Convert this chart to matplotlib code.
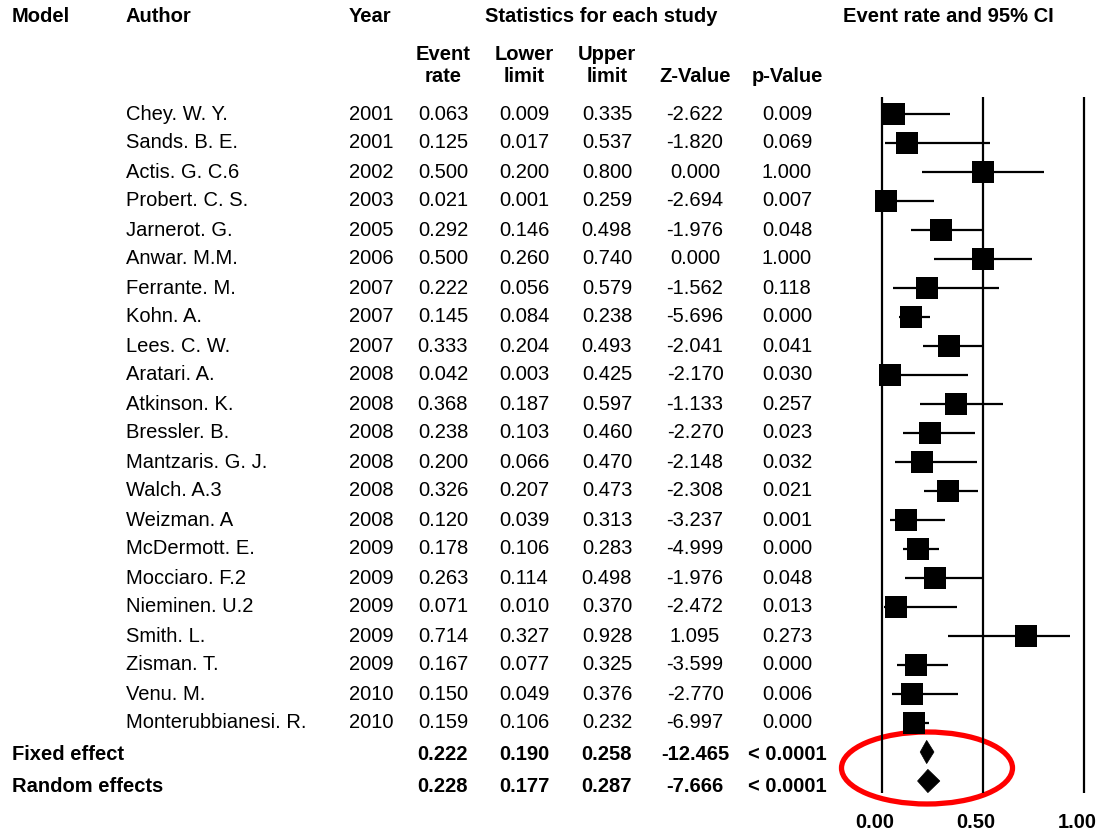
import matplotlib
matplotlib.use("Agg")
import matplotlib.pyplot as plt
from matplotlib.patches import Ellipse, Polygon
from matplotlib.transforms import offset_copy

plt.rcParams['font.family'] = ['Liberation Sans', 'DejaVu Sans']

# Studies
authors = ["Chey. W. Y.", "Sands. B. E.", "Actis. G. C.6", "Probert. C. S.", "Jarnerot. G.",
           "Anwar. M.M.", "Ferrante. M.", "Kohn. A.", "Lees. C. W.", "Aratari. A.",
           "Atkinson. K.", "Bressler. B.", "Mantzaris. G. J.", "Walch. A.3", "Weizman. A",
           "McDermott. E.", "Mocciaro. F.2", "Nieminen. U.2", "Smith. L.", "Zisman. T.",
           "Venu. M.", "Monterubbianesi. R."]
years = [2001, 2001, 2002, 2003, 2005, 2006, 2007, 2007, 2007, 2008, 2008,
         2008, 2008, 2008, 2008, 2009, 2009, 2009, 2009, 2009, 2010, 2010]
event_rate = [0.063, 0.125, 0.500, 0.021, 0.292, 0.500, 0.222, 0.145, 0.333, 0.042, 0.368,
              0.238, 0.200, 0.326, 0.120, 0.178, 0.263, 0.071, 0.714, 0.167, 0.150, 0.159]
lower = [0.009, 0.017, 0.200, 0.001, 0.146, 0.260, 0.056, 0.084, 0.204, 0.003, 0.187,
         0.103, 0.066, 0.207, 0.039, 0.106, 0.114, 0.010, 0.327, 0.077, 0.049, 0.106]
upper = [0.335, 0.537, 0.800, 0.259, 0.498, 0.740, 0.579, 0.238, 0.493, 0.425, 0.597,
         0.460, 0.470, 0.473, 0.313, 0.283, 0.498, 0.370, 0.928, 0.325, 0.376, 0.232]
z_value = [-2.622, -1.820, 0.000, -2.694, -1.976, 0.000, -1.562, -5.696, -2.041, -2.170, -1.133,
           -2.270, -2.148, -2.308, -3.237, -4.999, -1.976, -2.472, 1.095, -3.599, -2.770, -6.997]
p_value = [0.009, 0.069, 1.000, 0.007, 0.048, 1.000, 0.118, 0.000, 0.041, 0.030, 0.257,
           0.023, 0.032, 0.021, 0.001, 0.000, 0.048, 0.013, 0.273, 0.000, 0.006, 0.000]

# Pooled estimates
models = ["Fixed effect", "Random effects"]
pooled_rate = [0.222, 0.228]
pooled_lower = [0.190, 0.177]
pooled_upper = [0.258, 0.287]
pooled_z = [-12.465, -7.666]
pooled_p = ["< 0.0001", "< 0.0001"]

x_ticks = [0.0, 0.5, 1.0]
x_ticklabels = ["0.00", "0.50", "1.00"]

W, H = 1099, 832
fig = plt.figure(figsize=(W / 100, H / 100), dpi=100)

# table part, pixel coordinates
ax_t = fig.add_axes([0, 0, 1, 1])
ax_t.set_xlim(0, W)
ax_t.set_ylim(H, 0)
ax_t.axis('off')

fs = 14.5
y0, dy = 114, 29.0
col_x = {'year': 371, 'event': 443, 'lower': 524, 'upper': 607, 'z': 695, 'p': 787}

# headers
ax_t.text(12, 17, "Model", fontsize=fs, fontweight='bold', va='center', ha='left')
ax_t.text(126, 17, "Author", fontsize=fs, fontweight='bold', va='center', ha='left')
ax_t.text(349, 17, "Year", fontsize=fs, fontweight='bold', va='center', ha='left')
ax_t.text(601, 17, "Statistics for each study", fontsize=fs, fontweight='bold', va='center', ha='center')
ax_t.text(843, 17, "Event rate and 95% CI", fontsize=fs, fontweight='bold', va='center', ha='left')
for key, top, bottom in [('event', "Event", "rate"), ('lower', "Lower", "limit"), ('upper', "Upper", "limit")]:
    ax_t.text(col_x[key], 55, top, fontsize=fs, fontweight='bold', va='center', ha='center')
    ax_t.text(col_x[key], 76, bottom, fontsize=fs, fontweight='bold', va='center', ha='center')
ax_t.text(col_x['z'], 76, "Z-Value", fontsize=fs, fontweight='bold', va='center', ha='center')
ax_t.text(col_x['p'], 76, "p-Value", fontsize=fs, fontweight='bold', va='center', ha='center')

# study rows
for i in range(len(authors)):
    y = y0 + i * dy
    ax_t.text(126, y, authors[i], fontsize=fs, va='center', ha='left')
    ax_t.text(col_x['year'], y, str(years[i]), fontsize=fs, va='center', ha='center')
    ax_t.text(col_x['event'], y, f"{event_rate[i]:.3f}", fontsize=fs, va='center', ha='center')
    ax_t.text(col_x['lower'], y, f"{lower[i]:.3f}", fontsize=fs, va='center', ha='center')
    ax_t.text(col_x['upper'], y, f"{upper[i]:.3f}", fontsize=fs, va='center', ha='center')
    ax_t.text(col_x['z'], y, f"{z_value[i]:.3f}", fontsize=fs, va='center', ha='center')
    ax_t.text(col_x['p'], y, f"{p_value[i]:.3f}", fontsize=fs, va='center', ha='center')

# pooled rows
n = len(authors)
for j in range(len(models)):
    y = y0 + (n + j) * dy + 3 + j * 2
    ax_t.text(12, y, models[j], fontsize=fs, fontweight='bold', va='center', ha='left')
    ax_t.text(col_x['event'], y, f"{pooled_rate[j]:.3f}", fontsize=fs, fontweight='bold', va='center', ha='center')
    ax_t.text(col_x['lower'], y, f"{pooled_lower[j]:.3f}", fontsize=fs, fontweight='bold', va='center', ha='center')
    ax_t.text(col_x['upper'], y, f"{pooled_upper[j]:.3f}", fontsize=fs, fontweight='bold', va='center', ha='center')
    ax_t.text(col_x['z'], y, f"{pooled_z[j]:.3f}", fontsize=fs, fontweight='bold', va='center', ha='center')
    ax_t.text(col_x['p'], y, pooled_p[j], fontsize=fs, fontweight='bold', va='center', ha='center')

# forest part: x in event-rate units, y in row units
px0, px1 = 881.7, 1084.3
scale = px1 - px0
ax_f = fig.add_axes([840 / W, 0, (W - 840) / W, 1])
ax_f.set_xlim((840 - px0) / scale, (W - px0) / scale)
ax_f.set_ylim((H - y0) / dy, -y0 / dy)
ax_f.axis('off')

ax_f.vlines(x_ticks, (97 - y0) / dy, (793 - y0) / dy, color='black', linewidth=1.6)

rows = list(range(n))
ax_f.hlines(rows, lower, upper, color='black', linewidth=1.6)
ax_f.plot(event_rate, rows, linestyle='none', marker='s', markersize=16.5,
          color='black', markeredgewidth=0)

for j in range(len(models)):
    r = n + j
    half_h = 0.4
    diamond = Polygon([(pooled_lower[j], r), (pooled_rate[j], r - half_h),
                       (pooled_upper[j], r), (pooled_rate[j], r + half_h)],
                      closed=True, facecolor='black', edgecolor='black', linewidth=0.5)
    ax_f.add_patch(diamond)

# axis labels sit a little left of their gridlines
lab_trans = offset_copy(ax_f.transData, fig=fig, x=-7, y=0, units='dots')
for xt, lab in zip(x_ticks, x_ticklabels):
    ax_f.text(xt, (823 - y0) / dy, lab, fontsize=fs, fontweight='bold', ha='center', va='center',
              transform=lab_trans)

# highlight around the pooled estimates
ax_f.add_patch(Ellipse(((927 - px0) / scale, (768 - y0) / dy), 171 / scale, 72 / dy,
                       fill=False, edgecolor='#ff0000', linewidth=3.8, clip_on=False))

fig.savefig("out.png", dpi=100)
